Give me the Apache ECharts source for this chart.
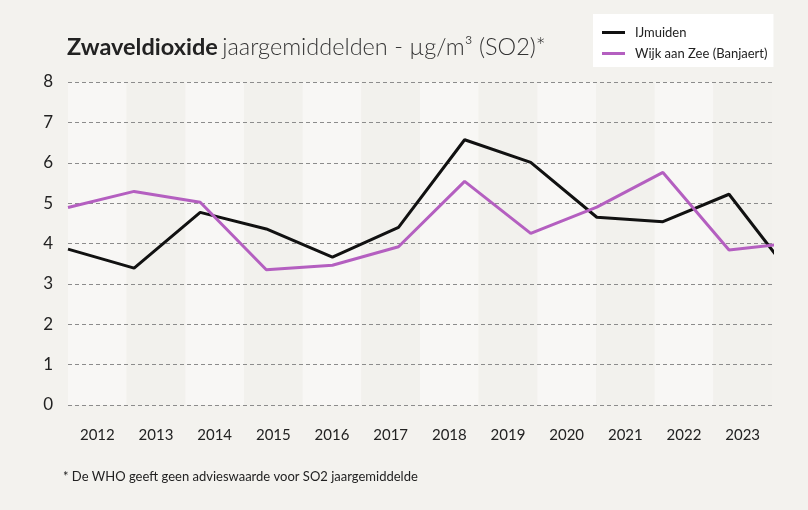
<!DOCTYPE html>
<html lang="nl">
<head>
    <meta charset="UTF-8">
    <title>Zwaveldioxide</title>
    <script src="https://cdn.jsdelivr.net/npm/echarts@6.0.0/dist/echarts.min.js"></script>
    <style>
        html, body {
            margin: 0;
            border: 0;
            background: #f3f2ee;
        }

        #chart {
            width: 808px;
            height: 510px;
        }
    </style>
</head>
<body>
<div id="chart"></div>
<script type="text/javascript">
    const years = ['2012', '2013', '2014', '2015', '2016', '2017', '2018', '2019', '2020', '2021', '2022', '2023'];
    const ijmuiden = [3.86, 3.39, 4.77, 4.36, 3.66, 4.40, 6.57, 6.01, 4.65, 4.54, 5.22, 3.10];
    const wijkAanZee = [4.89, 5.29, 5.02, 3.35, 3.46, 3.92, 5.54, 4.25, 4.90, 5.76, 3.84, 4.02];
    const yTicks = {min: 0, max: 8, interval: 1};

    const FONT = 'Lato, "Noto Sans", sans-serif';

    // lines run on their own (hidden) x scale, a bit wider than the year bands
    const toPoints = values => values.map((v, i) => [i, v]);

    window.onload = () => {
        const chart = echarts.init(document.querySelector('#chart'), null, {renderer: 'canvas'});
        const option = {
            backgroundColor: '#f3f2ee',
            animation: false,
            textStyle: {fontFamily: FONT},
            title: {
                left: 62,
                top: 30,
                text: '{b|Zwaveldioxide} {l|jaargemiddelden - µg/m³ (SO2)*}',
                textStyle: {
                    rich: {
                        b: {fontFamily: FONT, fontSize: 23.5, fontWeight: 'bold', color: '#222'},
                        l: {fontFamily: FONT, fontSize: 23.5, fontWeight: 300, color: '#333'}
                    }
                }
            },
            legend: {
                orient: 'vertical',
                left: 593,
                top: 14,
                padding: [12, 6, 7, 9],
                itemGap: 8,
                itemWidth: 23,
                itemHeight: 3,
                icon: 'rect',
                backgroundColor: '#ffffff',
                textStyle: {fontFamily: FONT, fontSize: 13, color: '#222', padding: [0, 0, 0, 5]},
                data: ['IJmuiden', 'Wijk aan Zee (Banjaert)']
            },
            grid: {
                left: 68,
                right: 36,
                top: 82,
                bottom: 105,
                containLabel: false
            },
            xAxis: [
                {
                    type: 'category',
                    data: years,
                    boundaryGap: true,
                    z: 0,
                    axisLine: {show: false},
                    axisTick: {show: false},
                    axisLabel: {fontFamily: FONT, fontSize: 15, color: '#222', margin: 23},
                    splitArea: {
                        show: true,
                        areaStyle: {color: ['#f8f7f5', '#f2f1ed']}
                    }
                },
                {
                    type: 'value',
                    show: false,
                    min: 0,
                    max: 10.65
                }
            ],
            yAxis: {
                type: 'value',
                min: yTicks.min,
                max: yTicks.max,
                interval: yTicks.interval,
                z: 1,
                axisLine: {show: false},
                axisTick: {show: false},
                axisLabel: {fontFamily: FONT, fontSize: 17, color: '#222', margin: 15},
                splitLine: {
                    show: true,
                    lineStyle: {color: '#8c8c8c', width: 1, type: [4, 3]}
                }
            },
            series: [
                {
                    name: 'IJmuiden',
                    type: 'line',
                    xAxisIndex: 1,
                    z: 3,
                    data: toPoints(ijmuiden),
                    showSymbol: false,
                    symbol: 'none',
                    clip: true,
                    color: '#111111',
                    lineStyle: {width: 3, color: '#111111'}
                },
                {
                    name: 'Wijk aan Zee (Banjaert)',
                    type: 'line',
                    xAxisIndex: 1,
                    z: 3,
                    data: toPoints(wijkAanZee),
                    showSymbol: false,
                    symbol: 'none',
                    clip: true,
                    color: '#b45fc0',
                    lineStyle: {width: 3, color: '#b45fc0'}
                }
            ],
            graphic: [
                {
                    type: 'text',
                    left: 63,
                    top: 470,
                    style: {
                        text: '* De WHO geeft geen advieswaarde voor SO2 jaargemiddelde',
                        font: '13px ' + FONT,
                        fill: '#222'
                    }
                }
            ]
        };
        chart.setOption(option, true);
    }
</script>
</body>
</html>
